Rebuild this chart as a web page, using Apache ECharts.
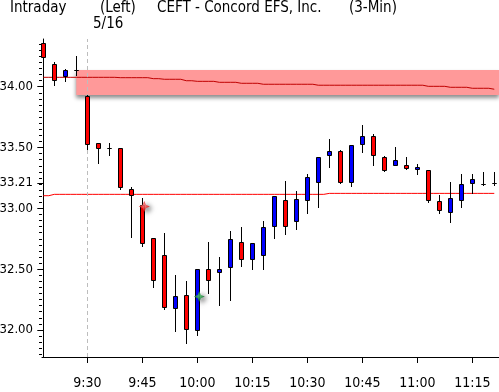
<!DOCTYPE html>
<html><head><meta charset="utf-8">
<script src="https://cdn.jsdelivr.net/npm/echarts@6/dist/echarts.min.js"></script>
<style>html,body{margin:0;padding:0;background:#fff}#c{width:499px;height:392px}</style>
</head><body><div id="c"></div>
<script>
// ---- data ----
const times = ['15:48','15:51','15:54','15:57',
 '9:30','9:33','9:36','9:39','9:42','9:45','9:48','9:51','9:54','9:57',
 '10:00','10:03','10:06','10:09','10:12','10:15','10:18','10:21','10:24','10:27',
 '10:30','10:33','10:36','10:39','10:42','10:45','10:48','10:51','10:54','10:57',
 '11:00','11:03','11:06','11:09','11:12','11:15','11:18','11:21'];
const open  = [34.36,34.19,34.09,34.135,33.925,33.535,33.50,33.495,33.16,33.03,32.76,32.615,32.18,32.285,32.00,32.505,32.475,32.515,32.72,32.58,32.62,32.855,33.07,32.895,33.065,33.215,33.435,33.475,33.215,33.525,33.595,33.42,33.36,33.36,33.32,33.315,33.06,32.97,33.065,33.205,33.20,33.21];
const high  = [34.39,34.20,34.145,34.25,33.93,33.535,33.54,33.50,33.175,33.085,32.76,32.80,32.45,32.405,32.505,32.72,32.60,32.815,32.85,32.715,32.895,33.10,33.225,33.145,33.28,33.42,33.57,33.48,33.52,33.685,33.615,33.43,33.505,33.42,33.365,33.315,33.11,33.22,33.28,33.28,33.30,33.30];
const low   = [34.23,34.01,34.05,34.10,33.485,33.375,33.44,33.16,32.765,32.69,32.355,32.175,31.995,31.895,31.955,32.30,32.205,32.245,32.53,32.50,32.50,32.76,32.79,32.83,32.965,33.015,33.34,33.205,33.185,33.465,33.355,33.305,33.355,33.325,33.285,33.055,32.965,32.89,33.015,33.125,33.19,33.19];
const close = [34.24,34.055,34.135,34.135,33.525,33.50,33.50,33.175,33.11,32.715,32.415,32.185,32.28,32.005,32.505,32.415,32.505,32.745,32.58,32.715,32.85,33.10,32.855,33.075,33.255,33.42,33.47,33.215,33.52,33.595,33.435,33.315,33.395,33.335,33.34,33.065,32.985,33.085,33.20,33.245,33.20,33.21];
const refLine = [33.104,33.115,33.115,33.115,33.115,33.115,33.115,33.115,33.115,33.115,33.115,33.115,33.115,33.115,33.115,33.115,33.115,33.115,33.115,33.115,33.115,33.115,33.115,33.115,33.115,33.115,33.123,33.123,33.123,33.123,33.123,33.123,33.123,33.123,33.123,33.123,33.123,33.123,33.123,33.123,33.123,33.123];
const avgLine = [34.077,34.077,34.077,34.077,34.077,34.077,34.077,34.074,34.074,34.074,34.066,34.061,34.061,34.049,34.044,34.044,34.036,34.036,34.028,34.028,34.020,34.020,34.020,34.020,34.020,34.012,34.012,34.012,34.012,34.012,34.012,34.012,34.012,34.012,34.012,34.003,34.003,33.995,33.995,33.987,33.987,33.979];
const band = {startBar: 3, high: 34.137, low: 33.932};
const buySignals = [[14, 32.275]];
const sellSignals = [[9, 33.015]];
const priceTicks = [32.00, 32.50, 33.00, 33.21, 33.50, 34.00];
const timeTicks = ['9:30','9:45','10:00','10:15','10:30','10:45','11:00','11:15'];
const sessionStart = '9:30';
const titleTexts = ['Intraday', '(Left)', 'CEFT - Concord EFS, Inc.', '(3-Min)', '5/16'];

// ---- chart ----
const X_MIN = -0.118, X_MAX = 41.43, Y_MIN = 31.778, Y_MAX = 34.392;
const tickIdx = timeTicks.map(t => times.indexOf(t));
const minorTicks = [];
for (let v = 31.80; v <= Y_MAX + 1e-9; v += 0.05) minorTicks.push(+v.toFixed(2));
const AX_FONT = "'DejaVu Sans Condensed','DejaVu Sans',sans-serif";
const TI_FONT = "'DejaVu Sans Condensed','DejaVu Sans',sans-serif";

const candleData = times.map((t, i) => [i, open[i], close[i], low[i], high[i]]);

function renderCandle(params, api) {
  const x = api.value(0), o = api.value(1), c = api.value(2), l = api.value(3), h = api.value(4);
  const pO = api.coord([x, o]), pC = api.coord([x, c]), pL = api.coord([x, l]), pH = api.coord([x, h]);
  const cx = Math.round(pO[0]) + 0.5;
  const top = Math.round(Math.min(pO[1], pC[1])) + 0.5;
  const bot = Math.round(Math.max(pO[1], pC[1])) + 0.5;
  const up = c > o;
  const col = c === o ? '#000' : (up ? '#0000ff' : '#ff0000');
  return {
    type: 'group',
    children: [
      {type: 'line', shape: {x1: cx, y1: Math.round(pH[1]) , x2: cx, y2: Math.round(pL[1]) + 1},
       style: {stroke: '#000', lineWidth: 1}},
      {type: 'rect', shape: {x: cx - 2, y: top, width: 4, height: bot - top},
       style: {fill: col, stroke: '#000', lineWidth: 1}}
    ]
  };
}

const sparkle = 'path://M5,0 L6.5,3.5 L10,5 L6.5,6.5 L5,10 L3.5,6.5 L0,5 L3.5,3.5 Z';

const chart = echarts.init(document.getElementById('c'), null, {renderer: 'canvas'});
chart.setOption({
  animation: false,
  backgroundColor: '#fff',
  grid: {left: 42, right: 0, top: 39, bottom: 35, containLabel: false, outerBoundsMode: 'none'},
  xAxis: {
    type: 'value', min: X_MIN, max: X_MAX,
    axisLine: {show: true, lineStyle: {color: '#000', width: 1}},
    axisTick: {show: true, inside: false, length: 6, lineStyle: {color: '#000'}, customValues: tickIdx},
    axisLabel: {show: true, customValues: tickIdx, margin: 19, color: '#000',
      fontFamily: AX_FONT, fontSize: 14, formatter: v => times[Math.round(v)]},
    splitLine: {show: false}
  },
  yAxis: [{
    type: 'value', min: Y_MIN, max: Y_MAX, position: 'left',
    axisLine: {show: true, lineStyle: {color: '#000', width: 1}},
    axisTick: {show: true, length: 6, lineStyle: {color: '#000'}, customValues: priceTicks},
    axisLabel: {show: true, customValues: priceTicks, margin: 9, color: '#000',
      fontFamily: AX_FONT, fontSize: 13, formatter: v => v.toFixed(2)},
    splitLine: {show: false}
  }, {
    type: 'value', min: Y_MIN, max: Y_MAX, position: 'left',
    axisLine: {show: false},
    axisTick: {show: true, length: 3, lineStyle: {color: '#000'}, customValues: minorTicks},
    axisLabel: {show: false},
    splitLine: {show: false}
  }],
  graphic: [
    {type: 'text', left: 10, top: 1, style: {text: titleTexts[0], font: '15px ' + TI_FONT, fill: '#000'}},
    {type: 'text', left: 100, top: 1, style: {text: titleTexts[1], font: '15px ' + TI_FONT, fill: '#000'}},
    {type: 'text', left: 157, top: 1, style: {text: titleTexts[2], font: '15px ' + TI_FONT, fill: '#000'}},
    {type: 'text', left: 349, top: 1, style: {text: titleTexts[3], font: '15px ' + TI_FONT, fill: '#000'}},
    {type: 'text', left: 93, top: 17, style: {text: titleTexts[4], font: '15px ' + TI_FONT, fill: '#000'}}
  ],
  series: [
    {
      type: 'line', name: 'avg', data: avgLine.map((v, i) => [i, v]), step: 'middle',
      symbol: 'none', lineStyle: {color: '#c00000', width: 1}, z: 2,
      markArea: {
        silent: true,
        itemStyle: {color: '#ff9999', shadowBlur: 4, shadowColor: 'rgba(0,0,0,0.45)', shadowOffsetY: 3},
        data: [[{coord: [band.startBar, band.high]}, {coord: [X_MAX, band.low]}]]
      }
    },
    {
      type: 'line', name: 'ref', data: refLine.map((v, i) => [i, v]), step: 'middle',
      symbol: 'none', lineStyle: {color: '#ff0000', width: 1}, z: 3,
      markLine: {
        silent: true, symbol: 'none', label: {show: false},
        lineStyle: {color: '#bdbdbd', type: [4, 3], width: 1},
        data: [{xAxis: times.indexOf(sessionStart)}]
      }
    },
    {
      type: 'custom', name: 'price', renderItem: renderCandle, data: candleData, z: 5,
      encode: {x: 0, y: [1, 2, 3, 4]}
    },
    {
      type: 'scatter', data: sellSignals, symbol: sparkle, symbolSize: 11, symbolOffset: [2, 0], z: 6,
      itemStyle: {color: {type: 'radial', x: 0.45, y: 0.45, r: 0.55, colorStops: [{offset: 0, color: '#ff8080'}, {offset: 1, color: '#e00000'}]},
        shadowBlur: 5, shadowColor: 'rgba(0,0,0,0.7)', shadowOffsetX: 3, shadowOffsetY: 2}
    },
    {
      type: 'scatter', data: buySignals, symbol: sparkle, symbolSize: 11, symbolOffset: [2, 0], z: 6,
      itemStyle: {color: {type: 'radial', x: 0.45, y: 0.45, r: 0.55, colorStops: [{offset: 0, color: '#50d070'}, {offset: 1, color: '#006820'}]},
        shadowBlur: 5, shadowColor: 'rgba(0,0,0,0.7)', shadowOffsetX: 3, shadowOffsetY: 2}
    }
  ]
});
</script></body></html>
